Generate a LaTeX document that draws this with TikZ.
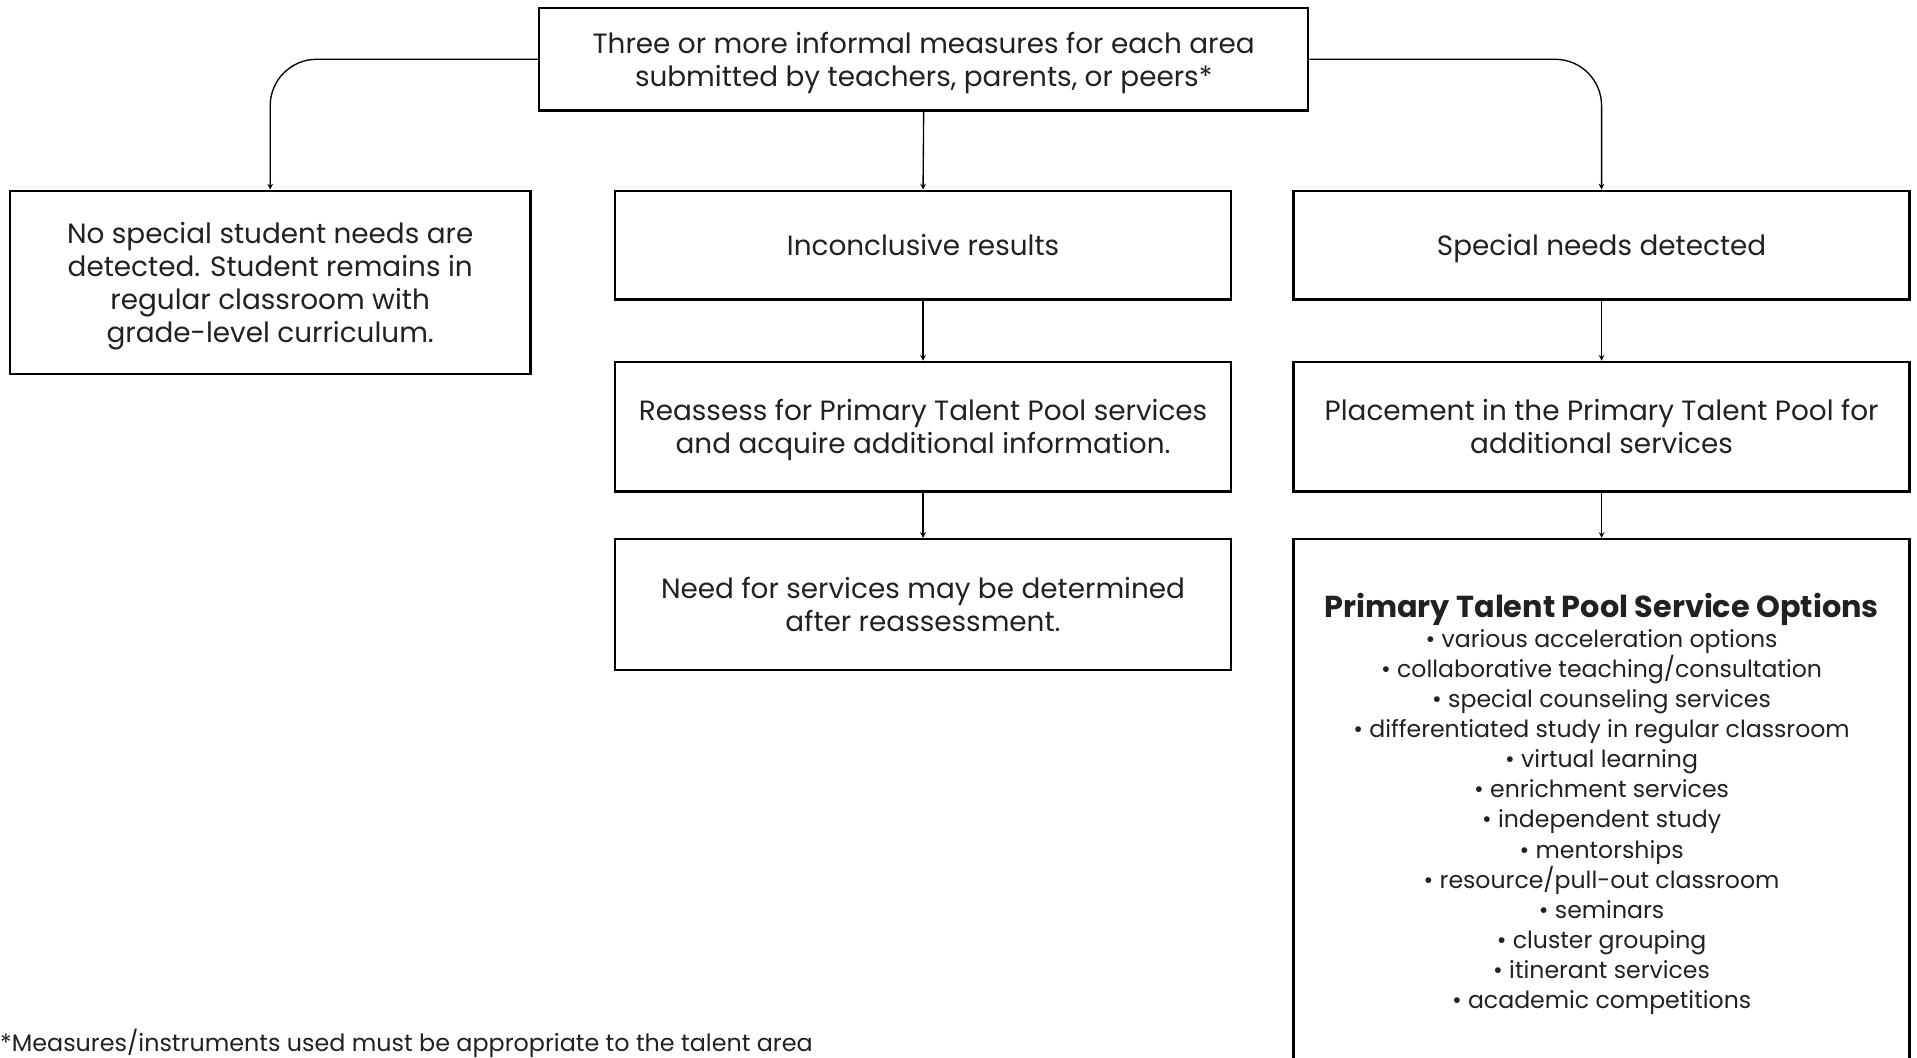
\documentclass[tikz,border=0pt]{standalone}
\usepackage{fontspec}
\setmainfont{Poppins}
\usepackage{xcolor}
\usetikzlibrary{positioning}
\usetikzlibrary{arrows, shapes}
\definecolor{inkgray}{rgb}{0.13, 0.13, 0.13}
\tikzstyle{box} = [rectangle, draw=black, line width=2pt, text=inkgray, align=center, inner sep=0pt, text depth=0pt, font=\fontsize{22.8}{27}\selectfont]
\tikzstyle{arrow} = [line width=1.1pt,->,>=stealth]

\begin{document}
\begin{tikzpicture}[x=1pt,y=-1pt]
      \useasboundingbox (0,0) rectangle (1568,864.6);
      \node (top) [box, minimum width=629pt, minimum height=84pt] at (755.5,48.5) {Three or more informal measures for each area\\submitted by teachers, parents, or peers*};
      \node (none) [box, minimum width=426pt, minimum height=150pt] at (221,231) {No special student needs are\\detected. Student remains in\\regular classroom with\\grade-level curriculum.};
      \node (incon) [box, minimum width=504pt, minimum height=89pt] at (755,200.5) {Inconclusive results};
      \node (special) [box, minimum width=504pt, minimum height=89pt] at (1310,200.5) {Special needs detected};
      \node (reassess) [box, minimum width=504pt, minimum height=106pt] at (755,349) {Reassess for Primary Talent Pool services\\and acquire additional information.};
      \node (place) [box, minimum width=504pt, minimum height=106pt] at (1310,349) {Placement in the Primary Talent Pool for\\additional services};
      \node (after) [box, minimum width=504pt, minimum height=107pt] at (755,494.5) {Need for services may be determined\\after reassessment.};
      \node (options) [box, font=\fontsize{19.3}{24.6}\selectfont, minimum width=504pt, minimum height=428pt] at (1310,655) {{\fontsize{24.8}{26}\selectfont\bfseries Primary Talent Pool Service Options}\\
        • various acceleration options\\
        • collaborative teaching/consultation\\
        • special counseling services\\
        • differentiated study in regular classroom\\
        • virtual learning\\
        • enrichment services\\
        • independent study\\
        • mentorships\\
        • resource/pull-out classroom\\
        • seminars\\
        • cluster grouping\\
        • itinerant services\\
        • academic competitions};
      \node (note) [anchor=base west, text=inkgray, font=\fontsize{19.5}{24}\selectfont, inner sep=0pt] at (0,860) {*Measures/instruments used must be appropriate to the talent area};
      \draw[arrow, rounded corners=38pt] (top.west) -| (none.north);
      \draw[arrow] (top.south) -- (incon.north);
      \draw[arrow, rounded corners=38pt] (top.east) -| (special.north);
      \draw[arrow] (incon.south) -- (reassess.north);
      \draw[arrow] (reassess.south) -- (after.north);
      \draw[arrow] (special.south) -- (place.north);
      \draw[arrow] (place.south) -- (options.north);
\end{tikzpicture}
\end{document}
